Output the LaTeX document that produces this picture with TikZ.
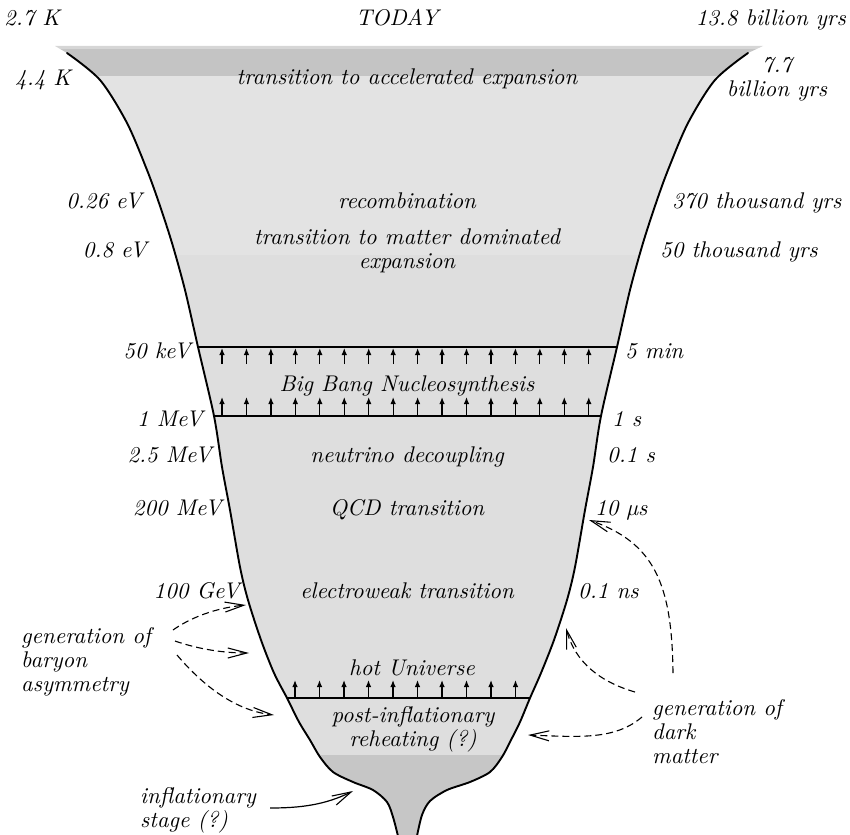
\documentclass[tikz,border=0pt]{standalone}
\usepackage{fontspec}
\setmainfont{lmroman10-regular.otf}[ItalicFont=lmroman10-italic.otf]
\usetikzlibrary{arrows.meta}
\definecolor{rimgray}{HTML}{D6D6D6}
\definecolor{bandgray}{HTML}{C4C4C4}
\definecolor{uppergray}{HTML}{E3E3E3}
\definecolor{midgray}{HTML}{DEDEDE}
\definecolor{lowgray}{HTML}{C6C6C6}
\begin{document}
\begin{tikzpicture}[x=1pt,y=-1pt,
  every node/.style={inner sep=0pt, font=\fontsize{22.7}{24}\selectfont\itshape},
  multi/.style={align=center},
  lft/.style={align=left},
  edgeline/.style={line width=1.9pt, line join=round, line cap=round},
  barline/.style={line width=1.4pt},
  uparrow/.style={line width=1.2pt, -{Latex[length=7pt,width=5.5pt]}},
  dasharrow/.style={line width=1.1pt, dash pattern=on 7pt off 4pt, -{Straight Barb[length=19pt,width=10pt,line width=1.1pt]}},
  solidarrow/.style={line width=1.2pt, -{Straight Barb[length=19pt,width=10pt,line width=1.1pt]}}
]
\useasboundingbox (0,0) rectangle (850,834);

% ---------- funnel fills ----------
\begin{scope}
\clip (55,46) -- plot[smooth] coordinates {(67,53) (100,80) (127,123) (147,170) (159,203) (172,243) (185,290) (198,347) (214,416) (222,467) (230,510) (240,567) (248,600) (261,640) (274,673) (287,698) (299,722) (310,740) (320,757) (333,772) (353,782) (373,790) (387,802) (393,817) (398,836)}
  -- plot[smooth] coordinates {(417,836) (422,815) (430,801) (447,790) (470,782) (490,772) (502,757) (511,740) (520,722) (530,698) (541,673) (554,640) (567,600) (575,567) (585,510) (593,467) (601,416) (617,347) (630,290) (643,243) (656,203) (668,170) (688,123) (715,80) (748,53)}
  -- (763,46) -- cycle;
\fill[rimgray] (0,40) rectangle (850,49);
\fill[bandgray] (0,49) rectangle (850,76);
\fill[uppergray] (0,76) rectangle (850,255);
\fill[midgray] (0,255) rectangle (850,755);
\fill[lowgray] (0,755) rectangle (850,840);
\end{scope}

% ---------- funnel outline ----------
\draw[edgeline] plot[smooth] coordinates {(67,53) (100,80) (127,123) (147,170) (159,203) (172,243) (185,290) (198,347) (214,416) (222,467) (230,510) (240,567) (248,600) (261,640) (274,673) (287,698) (299,722) (310,740) (320,757) (333,772) (353,782) (373,790) (387,802) (393,817) (398,836)};
\draw[edgeline] plot[smooth] coordinates {(417,836) (422,815) (430,801) (447,790) (470,782) (490,772) (502,757) (511,740) (520,722) (530,698) (541,673) (554,640) (567,600) (575,567) (585,510) (593,467) (601,416) (617,347) (630,290) (643,243) (656,203) (668,170) (688,123) (715,80) (748,53)};

% ---------- horizontal bars ----------
\coordinate (bbnTL) at (198,347);
\coordinate (bbnTR) at (617,347);
\coordinate (bbnBL) at (214,416);
\coordinate (bbnBR) at (601,416);
\coordinate (hotL) at (287,698);
\coordinate (hotR) at (530,698);
\draw[barline] (bbnTL) -- (bbnTR);
\draw[barline] (bbnBL) -- (bbnBR);
\draw[barline] (hotL) -- (hotR);

\foreach \i in {0,...,15}{
  \draw[uparrow] ({222+24.45*\i},364) -- ({222+24.45*\i},348);
  \draw[uparrow] ({222+24.45*\i},416) -- ({222+24.45*\i},397);
}
\foreach \i in {0,...,9}{
  \draw[uparrow] ({295+24.5*\i},698) -- ({295+24.5*\i},680);
}

% ---------- top labels ----------
\node[anchor=base west] (t27) at (4,26) {2.7 K};
\node[anchor=base] (today) at (397,26) {TODAY};
\node[anchor=base east] (t138) at (846,26) {13.8 billion yrs};
\node[anchor=base west] (t44) at (15,86) {4.4 K};
\node[multi] (t77) at (777,79) {7.7\\billion yrs};

% ---------- stage labels ----------
\node[anchor=base] (accel) at (407,85) {transition to accelerated expansion};
\node[anchor=base] (recomb) at (407,208) {recombination};
\node[multi] (matter) at (407,251) {transition to matter dominated\\expansion};
\node[anchor=base] (bbn) at (407,391) {Big Bang Nucleosynthesis};
\node[anchor=base] (nudec) at (407,462) {neutrino decoupling};
\node[anchor=base] (qcd) at (407,515) {QCD transition};
\node[anchor=base] (ew) at (407,598) {electroweak transition};
\node[anchor=base] (hot) at (412,675) {hot Universe};
\node[multi] (reheat) at (413,729) {post-inflationary\\reheating (?)};

% ---------- left scale ----------
\node[anchor=base east] (e026) at (142,208) {0.26 eV};
\node[anchor=base east] (e08) at (147,257) {0.8 eV};
\node[anchor=base east] (e50k) at (191,358) {50 keV};
\node[anchor=base east] (e1M) at (203,426) {1 MeV};
\node[anchor=base east] (e25M) at (212,462) {2.5 MeV};
\node[anchor=base east] (e200M) at (222,515) {200 MeV};
\node[anchor=base east] (e100G) at (240,598) {100 GeV};

% ---------- right scale ----------
\node[anchor=base west] (t370) at (672,208) {370 thousand yrs};
\node[anchor=base west] (t50k) at (660,257) {50 thousand yrs};
\node[anchor=base west] (t5m) at (625,358) {5 min};
\node[anchor=base west] (t1s) at (612,426) {1 s};
\node[anchor=base west] (t01s) at (607,462) {0.1 s};
\node[anchor=base west] (t10mu) at (595,515) {10 µs};
\node[anchor=base west] (t01ns) at (578,598) {0.1 ns};

% ---------- annotations ----------
\node[lft, anchor=west] (baryon) at (21,662) {generation of\\baryon\\asymmetry};
\node[lft, anchor=west] (dark) at (652,732) {generation of\\dark\\matter};
\node[lft, anchor=west] (infl) at (140,810) {inflationary\\stage (?)};

\coordinate (bs1) at (173,630);
\coordinate (be1) at (246,605);
\coordinate (bs2) at (175,641);
\coordinate (be2) at (249,653);
\coordinate (bs3) at (177,655);
\coordinate (be3) at (274,715);
\draw[dasharrow] (bs1) .. controls (190,618) and (215,608) .. (be1);
\draw[dasharrow] (bs2) .. controls (195,648) and (220,653) .. (be2);
\draw[dasharrow] (bs3) .. controls (200,682) and (232,710) .. (be3);

\coordinate (ds1) at (673,673);
\coordinate (de1) at (589,520);
\coordinate (ds2) at (635,692);
\coordinate (de2) at (566,628);
\coordinate (ds3) at (642,717);
\coordinate (de3) at (528,735);
\draw[dasharrow] (ds1) .. controls (672,585) and (655,543) .. (de1);
\draw[dasharrow] (ds2) .. controls (600,682) and (575,662) .. (de2);
\draw[dasharrow] (ds3) .. controls (615,740) and (580,737) .. (de3);

\coordinate (is) at (270,808);
\coordinate (ie) at (353,791);
\draw[solidarrow] (is) .. controls (300,808) and (325,805) .. (ie);
\end{tikzpicture}
\end{document}
